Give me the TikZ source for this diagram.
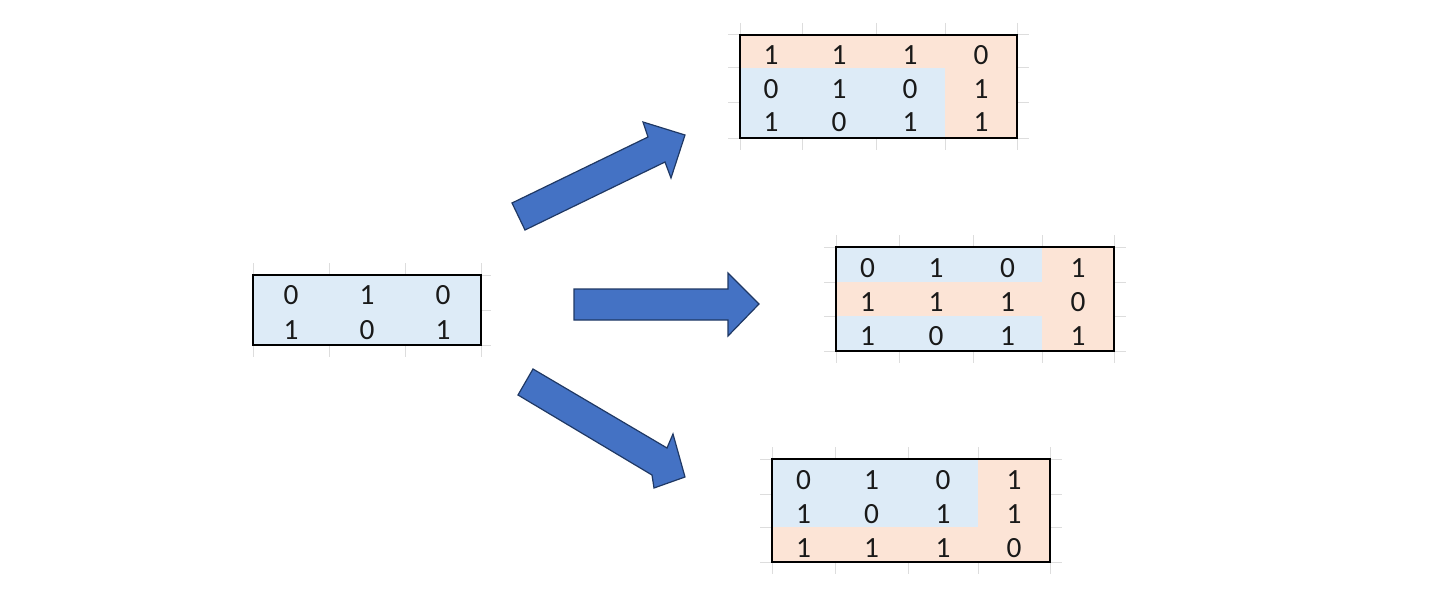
\documentclass[tikz,border=0pt]{standalone}
\usepackage{fontspec}
\setmainfont{Carlito}
\definecolor{cellblue}{HTML}{DDEBF7}
\definecolor{cellpeach}{HTML}{FCE4D6}
\definecolor{gridgray}{HTML}{DDDDDD}
\definecolor{arrowfill}{HTML}{4472C4}
\definecolor{arrowline}{HTML}{1F3864}
\tikzset{
  grid line/.style={gridgray, line width=0.75pt},
  box/.style={draw=black, line width=2.2pt},
  digit/.style={font=\fontsize{22}{22}\selectfont, text=black!90, inner sep=0pt},
  blockarrow/.style={fill=arrowfill, draw=arrowline, line width=0.9pt, line join=miter},
}
\newcommand{\matrow}[4]{%
  \foreach \v [count=\c] in {#4} {%
    \pgfmathsetmacro\xx{{#3}[\c-1]}%
    \node[digit] (#1\c) at (\xx,#2) {\v};
  }}
\begin{document}
\begin{tikzpicture}[x=0.75pt,y=-0.75pt]
\useasboundingbox (0,0) rectangle (1450,610);

% ---------- left matrix ----------
\foreach \x in {253,329,405,481} \draw[grid line] (\x,263) -- (\x,357);
\foreach \y in {275,310,345} \draw[grid line] (253,\y) -- (491,\y);
\fill[cellblue] (253,275) rectangle (481,345);
\draw[box] (253,275) rectangle (481,345);
\matrow{La}{295}{291,367,443}{0,1,0}
\matrow{Lb}{330}{291,367,443}{1,0,1}

% ---------- top matrix ----------
\foreach \x in {740,802,876,945,1017} \draw[grid line] (\x,23) -- (\x,150);
\foreach \y in {35,68,103,138} \draw[grid line] (728,\y) -- (1029,\y);
\fill[cellpeach] (740,35) rectangle (1017,138);
\fill[cellblue] (740,68) rectangle (945,138);
\draw[box] (740,35) rectangle (1017,138);
\matrow{Ta}{55.5}{771,839,910,981}{1,1,1,0}
\matrow{Tb}{89.5}{771,839,910,981}{0,1,0,1}
\matrow{Tc}{122}{771,839,910,981}{1,0,1,1}

% ---------- middle matrix ----------
\foreach \x in {836,899,973,1042,1114} \draw[grid line] (\x,235) -- (\x,363);
\foreach \y in {247,282,316,351} \draw[grid line] (824,\y) -- (1126,\y);
\fill[cellpeach] (836,247) rectangle (1114,351);
\fill[cellblue] (836,247) rectangle (1042,282);
\fill[cellblue] (836,316) rectangle (1042,351);
\draw[box] (836,247) rectangle (1114,351);
\matrow{Ma}{268}{867.5,936,1007.5,1078}{0,1,0,1}
\matrow{Mb}{302}{867.5,936,1007.5,1078}{1,1,1,0}
\matrow{Mc}{336}{867.5,936,1007.5,1078}{1,0,1,1}

% ---------- bottom matrix ----------
\foreach \x in {772,835,908,978,1050} \draw[grid line] (\x,447) -- (\x,574);
\foreach \y in {459,494,527,562} \draw[grid line] (760,\y) -- (1062,\y);
\fill[cellpeach] (772,459) rectangle (1050,562);
\fill[cellblue] (772,459) rectangle (978,527);
\draw[box] (772,459) rectangle (1050,562);
\matrow{Ba}{480}{803.5,871.5,943,1014}{0,1,0,1}
\matrow{Bb}{514}{803.5,871.5,943,1014}{1,0,1,1}
\matrow{Bc}{548}{803.5,871.5,943,1014}{1,1,1,0}

% ---------- block arrows ----------
\draw[blockarrow] (525,230) -- (512,203) -- (648,137) -- (643,122) -- (685,135) -- (671,178) -- (665,162) -- cycle;
\draw[blockarrow] (574,289) -- (728,289) -- (728,273) -- (759,304) -- (728,336) -- (728,320) -- (574,320) -- cycle;
\draw[blockarrow] (533,369) -- (667,448) -- (673,434) -- (685,477) -- (654,488) -- (652,475) -- (518,395) -- cycle;
\end{tikzpicture}
\end{document}
